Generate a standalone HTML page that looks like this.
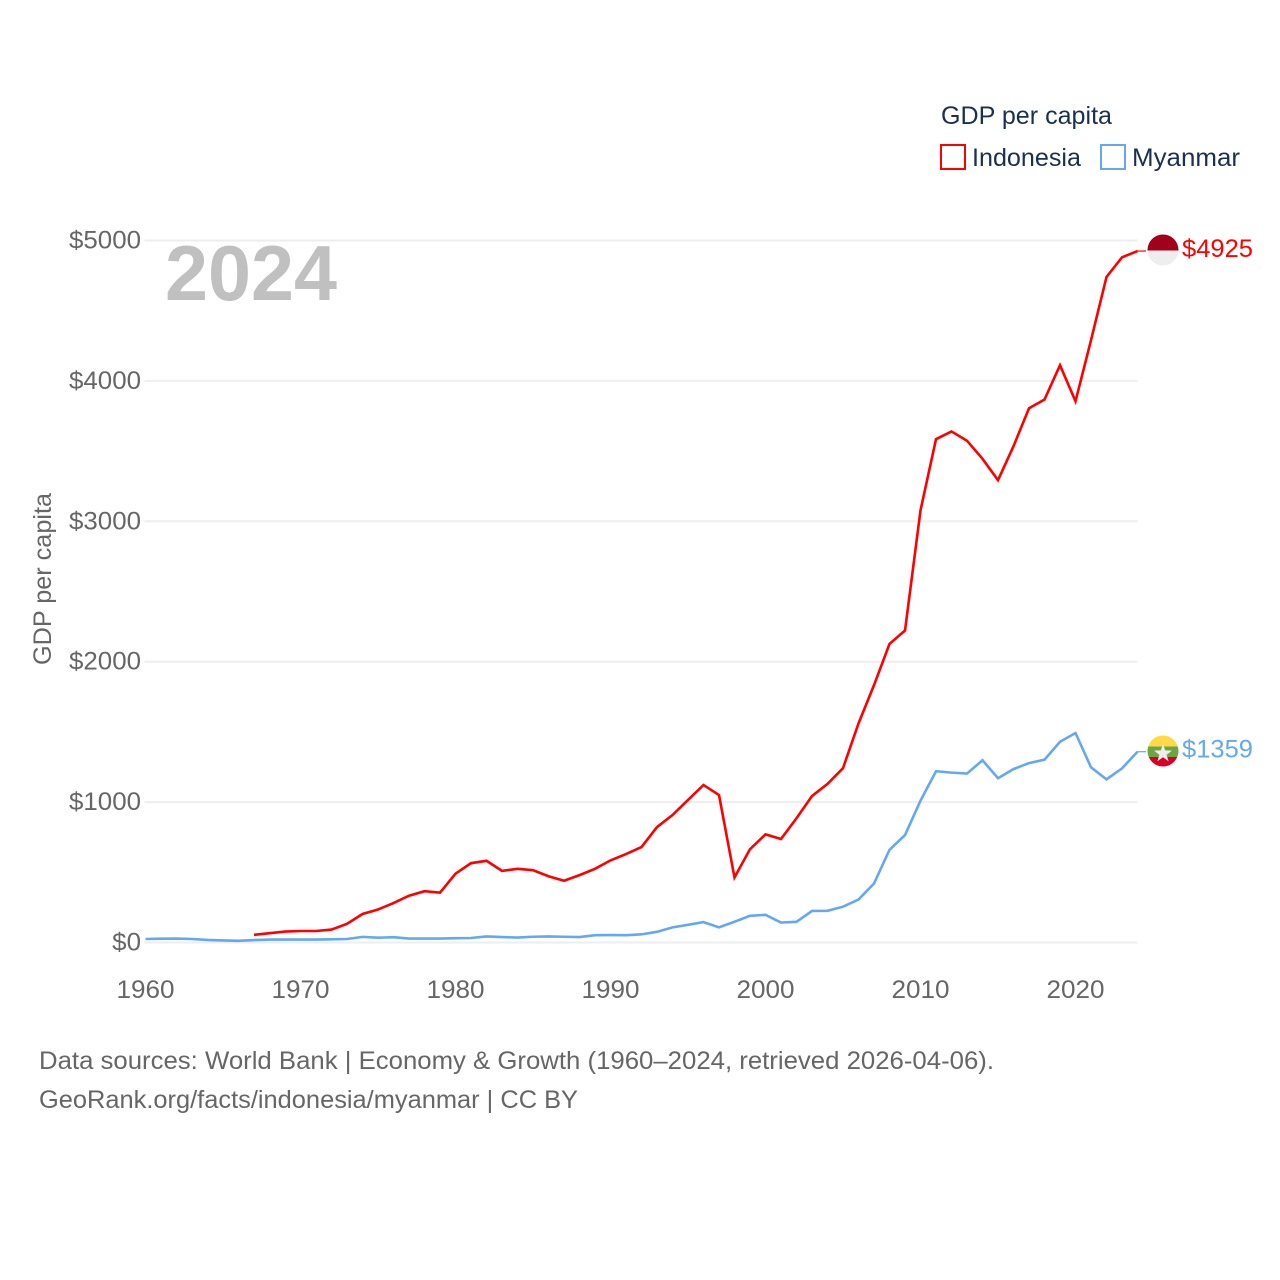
<!DOCTYPE html>
<html lang="en">
<head>
<meta charset="utf-8">
<title>GDP per capita: Indonesia and Myanmar</title>
<style>
html,body{margin:0;padding:0;background:#fff;width:1280px;height:1280px;overflow:hidden}
svg{display:block}
text{font-family:"Liberation Sans",sans-serif;font-size:25px;fill:#666}
</style>
</head>
<body>
<svg id="chart" width="1280" height="1280" viewBox="0 0 1280 1280" xmlns="http://www.w3.org/2000/svg">
  <defs>
    <clipPath id="clip-id"><circle cx="1163" cy="250" r="15.5"/></clipPath>
    <clipPath id="clip-mm"><circle cx="1163" cy="751" r="15.5"/></clipPath>
  </defs>
  <g id="grid"></g>
  <g id="yticks"></g>
  <g id="xticks"></g>
  <text transform="translate(51,665) rotate(-90)" textLength="172" lengthAdjust="spacingAndGlyphs">GDP per capita</text>
  <text id="year-label" x="165" y="300" textLength="172" lengthAdjust="spacingAndGlyphs" style="font-size:78px;font-weight:700;fill:#c0c0c0">2024</text>
  <g id="series"></g>

  <g>
    <text x="941" y="124" textLength="171" lengthAdjust="spacingAndGlyphs" style="fill:#1a3050">GDP per capita</text>
    <rect x="941" y="145" width="24" height="24" fill="#fff" stroke="#ff0000" stroke-width="2"/>
    <text x="972" y="166" textLength="109" lengthAdjust="spacingAndGlyphs" style="fill:#1a3050">Indonesia</text>
    <rect x="1101" y="145" width="24" height="24" fill="#fff" stroke="#64a8f0" stroke-width="2"/>
    <text x="1132" y="166" textLength="108" lengthAdjust="spacingAndGlyphs" style="fill:#1a3050">Myanmar</text>
  </g>

  <g clip-path="url(#clip-id)">
    <rect x="1147" y="234" width="32" height="16.5" fill="#a2001d"/>
    <rect x="1147" y="250.5" width="32" height="16" fill="#eeeeee"/>
  </g>
  <g clip-path="url(#clip-mm)">
    <rect x="1147" y="735" width="32" height="11.5" fill="#ffda44"/>
    <rect x="1147" y="746.5" width="32" height="10.5" fill="#6da544"/>
    <rect x="1147" y="757" width="32" height="11" fill="#d80027"/>
    <polygon points="1163,744 1165.2,750.4 1172,750.6 1166.6,754.7 1168.6,761.2 1163,757.3 1157.4,761.2 1159.4,754.7 1154,750.6 1160.8,750.4" fill="#eeeeee"/>
  </g>

  <text x="39" y="1069" textLength="955" lengthAdjust="spacingAndGlyphs">Data sources: World Bank | Economy &amp; Growth (1960–2024, retrieved 2026-04-06).</text>
  <text x="39" y="1108" textLength="539" lengthAdjust="spacingAndGlyphs">GeoRank.org/facts/indonesia/myanmar | CC BY</text>
</svg>

<script>
const years = [1960,1961,1962,1963,1964,1965,1966,1967,1968,1969,1970,1971,1972,1973,1974,1975,1976,1977,1978,1979,1980,1981,1982,1983,1984,1985,1986,1987,1988,1989,1990,1991,1992,1993,1994,1995,1996,1997,1998,1999,2000,2001,2002,2003,2004,2005,2006,2007,2008,2009,2010,2011,2012,2013,2014,2015,2016,2017,2018,2019,2020,2021,2022,2023,2024];
const indonesia = [null,null,null,null,null,null,null,55,66,78,82,82,92,133,203,235,281,333,365,355,490,565,582,510,525,515,472,440,480,525,585,630,680,822,908,1015,1122,1050,463,665,770,737,885,1043,1130,1242,1560,1833,2127,2222,3078,3585,3640,3574,3445,3293,3535,3805,3867,4112,3855,4290,4740,4880,4925];
const myanmar = [25,27,28,25,18,15,12,17,21,21,21,21,23,25,40,34,38,28,28,28,31,32,43,39,35,41,43,41,39,52,53,52,58,76,108,126,145,108,148,190,197,142,147,225,226,255,306,420,660,765,1010,1220,1210,1203,1298,1170,1235,1278,1302,1430,1492,1248,1162,1240,1359];
const yTicks = [0,1000,2000,3000,4000,5000];
const xTicks = [1960,1970,1980,1990,2000,2010,2020];

const NS = 'http://www.w3.org/2000/svg';
const xScale = function (year) { return 145.5 + (year - 1960) * 15.5; };
const yScale = function (value) { return 942.5 - value * 0.1404; };
const make = function (tag, parent, attrs, content) {
  const el = document.createElementNS(NS, tag);
  Object.keys(attrs).forEach(function (k) { el.setAttribute(k, attrs[k]); });
  if (content !== undefined) el.textContent = content;
  parent.appendChild(el);
  return el;
};

const gridGroup = document.getElementById('grid');
const yGroup = document.getElementById('yticks');
const xGroup = document.getElementById('xticks');
const seriesGroup = document.getElementById('series');
const chart = document.getElementById('chart');

yTicks.forEach(function (v) {
  const line = make('line', gridGroup, {x1: 144.5, x2: 1137.5, y1: yScale(v), y2: yScale(v), stroke: '#eeeeee', 'stroke-width': 2});
  
  
  const s = '$' + v;
  const label = make('text', yGroup, {x: 141, y: yScale(v) + 8, 'text-anchor': 'end', textLength: s.length * 14.4, lengthAdjust: 'spacingAndGlyphs'}, s);
  
  
});

xTicks.forEach(function (t) {
  const label = make('text', xGroup, {x: xScale(t), y: 998, 'text-anchor': 'middle', textLength: 58, lengthAdjust: 'spacingAndGlyphs'}, String(t));
  
  
});

const buildPath = function (values) {
  let d = '';
  let pen = false;
  values.forEach(function (v, i) {
    if (v === null) { pen = false; return; }
    d += (pen ? 'L' : 'M') + xScale(years[i]).toFixed(2) + ' ' + yScale(v).toFixed(2);
    pen = true;
  });
  return d;
};

const lineIndonesia = make('path', seriesGroup, {d: buildPath(indonesia), fill: 'none', stroke: '#ff0000', 'stroke-width': 2.6, 'stroke-linejoin': 'miter'});



const lineMyanmar = make('path', seriesGroup, {d: buildPath(myanmar), fill: 'none', stroke: '#64a8f0', 'stroke-width': 2.6, 'stroke-linejoin': 'miter'});



const lastYear = years[years.length - 1];
const lastIndonesia = indonesia[indonesia.length - 1];
const lastMyanmar = myanmar[myanmar.length - 1];

const leaderIndonesia = make('line', seriesGroup, {x1: xScale(lastYear), x2: 1146, y1: yScale(lastIndonesia), y2: yScale(lastIndonesia), stroke: '#ff0000', 'stroke-width': 1.2});



const leaderMyanmar = make('line', seriesGroup, {x1: xScale(lastYear), x2: 1146, y1: yScale(lastMyanmar), y2: yScale(lastMyanmar), stroke: '#64a8f0', 'stroke-width': 1.2});



const valueIndonesia = make('text', chart, {x: 1182, y: yScale(lastIndonesia) + 6, textLength: 71, lengthAdjust: 'spacingAndGlyphs', style: 'fill:#ff0000'}, '$' + lastIndonesia);



const valueMyanmar = make('text', chart, {x: 1182, y: yScale(lastMyanmar) + 6, textLength: 71, lengthAdjust: 'spacingAndGlyphs', style: 'fill:#64a8f0'}, '$' + lastMyanmar);


</script>
</body>
</html>
